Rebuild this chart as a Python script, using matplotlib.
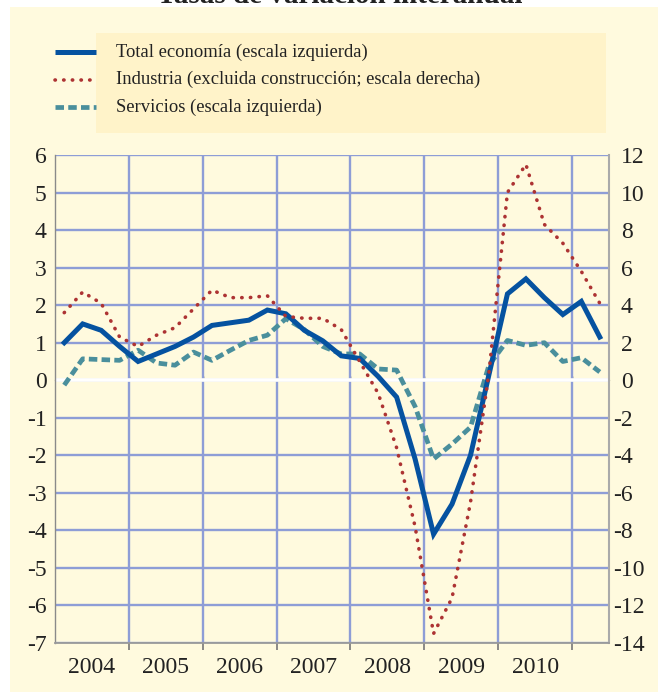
import matplotlib
matplotlib.use('Agg')
import matplotlib.pyplot as plt
import matplotlib.transforms as mtransforms
from matplotlib.patches import Rectangle
from matplotlib.lines import Line2D

# quarterly data, 2004 Q1 .. 2011 Q2
total = [1.0, 1.5, 1.33, 0.9, 0.5, 0.7, 0.9, 1.15, 1.46, 1.53, 1.6, 1.87, 1.77, 1.33, 1.05,
         0.65, 0.58, 0.1, -0.45, -2.1, -4.1, -3.3, -2.0, 0.15, 2.3, 2.7, 2.2, 1.75, 2.1, 1.15]
industria = [3.6, 4.7, 4.1, 2.3, 1.8, 2.4, 2.8, 3.8, 4.8, 4.4, 4.4, 4.5, 3.4, 3.3, 3.3,
             2.7, 1.0, -0.7, -3.6, -7.8, -13.5, -11.6, -6.5, 0.4, 10.0, 11.5, 8.3, 7.3, 5.8, 4.1]
servicios = [-0.13, 0.57, 0.55, 0.53, 0.8, 0.46, 0.4, 0.75, 0.53, 0.8, 1.06, 1.2, 1.64, 1.35, 0.9,
             0.7, 0.7, 0.3, 0.27, -0.7, -2.1, -1.7, -1.25, 0.4, 1.06, 0.93, 1.0, 0.5, 0.6, 0.22]
years = ['2004', '2005', '2006', '2007', '2008', '2009', '2010']
labels = ['Total economía (escala izquierda)',
          'Industria (excluida construcción; escala derecha)',
          'Servicios (escala izquierda)']

BLUE = '#0552a0'
RED = '#ad3333'
TEAL = '#4a8f9c'
GRID = '#8e9dd6'
PANEL = '#fffade'
LEGBOX = '#fff3c9'
TXT = '#222222'

plt.rcParams['font.family'] = ['Liberation Serif', 'DejaVu Serif']

W, H = 658, 694
fig = plt.figure(figsize=(W / 100, H / 100), dpi=100)
fig.patch.set_facecolor('white')


def px(x, y):
    return x / W, 1 - y / H


# cream panel
x0, y0 = px(10, 692)
fig.add_artist(Rectangle((x0, y0), 1 - x0, (692 - 7) / H, transform=fig.transFigure,
                         facecolor=PANEL, edgecolor='none', zorder=0))

# title: the reference only shows its lower part at the very top
fig.text(340 / W, 1 - 3 / H, 'Tasas de variación interanual', ha='center', va='baseline',
         fontsize=21, fontweight='bold', color=TXT)

# legend
bx, by = px(96, 133)
fig.add_artist(Rectangle((bx, by), (606 - 96) / W, 100 / H, transform=fig.transFigure,
                         facecolor=LEGBOX, edgecolor='none', zorder=1))
red_style = dict(color=RED, lw=2.6, linestyle=(0, (0.1, 2.3)), dash_capstyle='round')
styles = [dict(color=BLUE, lw=3.6, solid_capstyle='butt'),
          red_style,
          dict(color=TEAL, lw=3.4, linestyle=(0, (1.8, 0.9)), dash_capstyle='butt')]
for k, (lab, st) in enumerate(zip(labels, styles)):
    yy = 1 - (52 + 27.5 * k) / H
    fig.add_artist(Line2D([55 / W, 96 / W], [yy, yy], transform=fig.transFigure, zorder=2, **st))
    fig.text(116 / W, yy, lab, ha='left', va='center', fontsize=13.4, color=TXT, zorder=3)

# main axes
l, b = px(55, 643)
ax = fig.add_axes([l, b, (609 - 55) / W, (643 - 155) / H])
ax.set_facecolor(PANEL)
x = list(range(len(total)))
ax.set_xlim(-0.5, 29.5)
ax.set_ylim(-7, 6)

bounds = [3.5 + 4 * k for k in range(7)]
centers = [1.5 + 4 * k for k in range(7)]
ax.set_xticks(bounds)
ax.set_xticklabels([])
ax.set_xticks(centers, minor=True)
ax.set_xticklabels(years, minor=True)
ax.tick_params(axis='x', which='major', direction='out', length=5, width=1.2, color='#777777')
ax.tick_params(axis='x', which='minor', length=0, pad=10, labelsize=17, labelcolor=TXT)
ax.set_yticks(range(-7, 7))
ax.set_yticklabels([str(v) for v in range(-7, 7)])
ax.tick_params(axis='y', length=0, pad=6, labelsize=17, labelcolor=TXT)

ax.grid(True, which='major', color=GRID, lw=1.7, zorder=0)
ax.set_axisbelow(True)
ax.axhline(0, color='white', lw=2.6, zorder=1)
zero = ax.secondary_xaxis(7 / 13)
zero.set_xticks(bounds)
zero.set_xticklabels([])
zero.tick_params(direction='out', length=3, width=1, color='#333333')
zero.spines['bottom'].set_visible(False)

ax.spines['top'].set_visible(False)
ax.spines['left'].set_color('#8a8a8a')
ax.spines['left'].set_linewidth(1.0)
ax.spines['bottom'].set_color('#9a9a9a')
ax.spines['bottom'].set_linewidth(1.3)
ax.spines['right'].set_color('#aaaaaa')
ax.spines['right'].set_linewidth(1.5)

ax.plot(x, servicios, color=TEAL, lw=3.4, linestyle=(0, (1.8, 0.9)), zorder=3)
ax.plot(x, total, color=BLUE, lw=3.6, solid_joinstyle='miter', zorder=4)

ax2 = ax.twinx()
ax2.set_ylim(-14, 12)
ax2.set_yticks(range(-14, 13, 2))
ax2.set_yticklabels([str(v) for v in range(-14, 13, 2)], ha='left')
ax2.tick_params(axis='y', length=0, pad=8.5, labelsize=17, labelcolor=TXT)
for s in ['top', 'left', 'bottom', 'right']:
    ax2.spines[s].set_visible(False)
ax2.plot(x, industria, zorder=5, **red_style)

# digits line up, minus sign hangs to the left
shift = mtransforms.ScaledTranslation(-8 / 100, 0, fig.dpi_scale_trans)
for v, t in zip(range(-14, 13, 2), ax2.yaxis.get_major_ticks()):
    if v < 0:
        t.label2.set_transform(t.label2.get_transform() + shift)

fig.savefig('out.png', dpi=100, facecolor=fig.get_facecolor())
